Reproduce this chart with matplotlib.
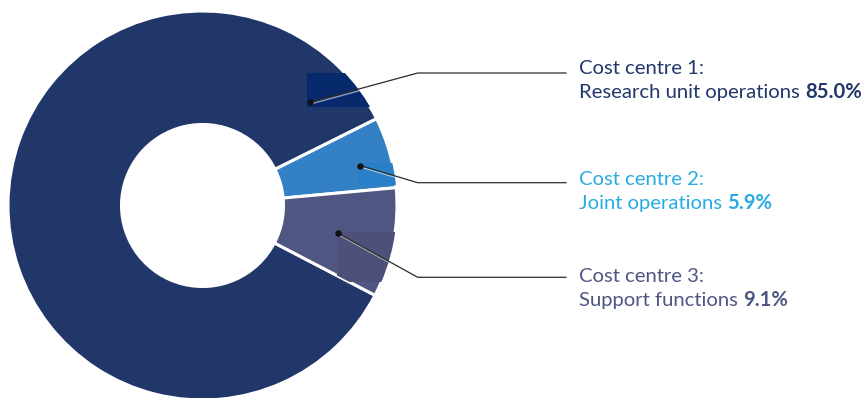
"""Cost centre split — donut with leader-line labels."""

import numpy as np
import matplotlib
matplotlib.use("Agg")
import matplotlib.pyplot as plt
from matplotlib.patches import Rectangle

W, H = 865, 398

# ---- data ------------------------------------------------------------------
headings = ["Cost centre 1:", "Cost centre 2:", "Cost centre 3:"]
names = ["Research unit operations", "Joint operations", "Support functions"]
shares = [85.0, 5.9, 9.1]

SLICE_COLORS = ["#21376a", "#3381c4", "#4f5682"]
TEXT_COLORS = ["#21376a", "#29abe2", "#4f5682"]
PATCH_COLORS = ["#062a6c", "#2a80c8", "#4d5179"]   # odd darker blocks in source

# ---- layout (pixel units, y measured from top) -------------------------------
CX, CY = 202.5, 205.5
R_OUT, R_IN = 194.5, 81.0
START = -27.5
ANCHOR_ANGLE = [43.9, 14.2, -11.6]
ANCHOR_R = [148.8, 162.7, 138.6]
PATCH_BOX = [(307, 73, 65, 34), (358, 163, 40, 22), (337, 232, 60, 50)]
ELBOW_X, END_X = 417.7, 566
ELBOW_Y = [73, 182.7, 277.3]
TEXT_X = 579
BASE1 = [74, 185, 281.7]
BASE2 = [98, 209, 305.7]

FONT = "Lato"
FS = 14.6


def py(y):
    return H - y


fig = plt.figure(figsize=(W / 100, H / 100), dpi=100, facecolor="white")
ax = fig.add_axes([0, 0, 1, 1])

wedges, _ = ax.pie(
    shares, colors=SLICE_COLORS, startangle=START, counterclock=False,
    center=(CX, py(CY)), radius=R_OUT, frame=True,
    wedgeprops=dict(width=R_OUT - R_IN, edgecolor="white", linewidth=2.2),
)
ax.set_xlim(0, W)
ax.set_ylim(0, H)
ax.set_aspect("equal")
ax.axis("off")

for i, w in enumerate(wedges):
    bx, by, bw, bh = PATCH_BOX[i]
    rect = Rectangle((bx, py(by + bh)), bw, bh, facecolor=PATCH_COLORS[i],
                     edgecolor="none", zorder=w.get_zorder() + 0.1)
    ax.add_patch(rect)
    rect.set_clip_path(w)

    a = np.deg2rad(ANCHOR_ANGLE[i])
    dx = CX + ANCHOR_R[i] * np.cos(a)
    dy = CY - ANCHOR_R[i] * np.sin(a)
    # faint highlight under the leader, inside the slice
    hl, = ax.plot([dx + 1, ELBOW_X + 1], [py(dy + 1.6), py(ELBOW_Y[i] + 1.6)],
                  color="white", alpha=0.55, linewidth=1.0, zorder=5)
    hl.set_clip_path(w)
    ax.plot([dx, ELBOW_X, END_X], [py(dy), py(ELBOW_Y[i]), py(ELBOW_Y[i])],
            color="#2b2b2b", linewidth=0.9, zorder=6,
            solid_joinstyle="miter")
    ax.plot([dx], [py(dy)], marker="o", markersize=3.6, color="#111111",
            zorder=7)

    ax.text(TEXT_X, py(BASE1[i]), headings[i], ha="left", va="baseline",
            family=FONT, fontsize=FS, color=TEXT_COLORS[i])
    t = ax.text(TEXT_X, py(BASE2[i]), names[i] + " ", ha="left",
                va="baseline", family=FONT, fontsize=FS,
                color=TEXT_COLORS[i])
    fig.canvas.draw()
    ext = t.get_window_extent()
    ax.text(ext.x1, py(BASE2[i]), f"{shares[i]:.1f}%", ha="left",
            va="baseline", family=FONT, fontsize=FS, fontweight="bold",
            color=TEXT_COLORS[i])

fig.savefig("out.png", dpi=100, facecolor="white")
